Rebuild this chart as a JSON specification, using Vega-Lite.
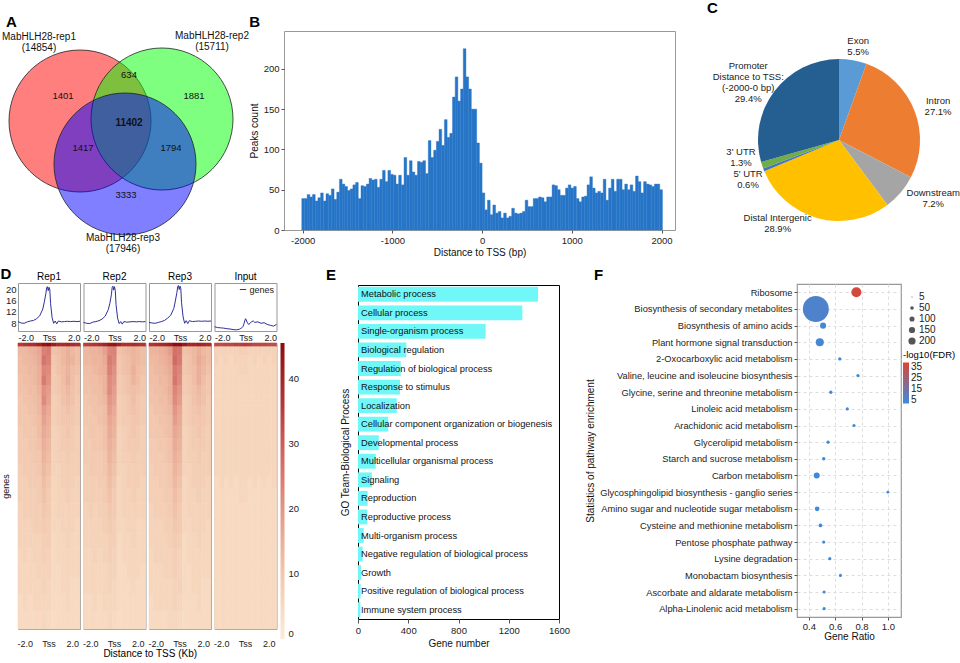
{
"$schema": "https://vega.github.io/schema/vega-lite/v6.json",
"padding": {"left": 0, "top": 0, "right": 0, "bottom": 0},
"config": {
  "font": "Liberation Sans",
  "view": {"stroke": null},
  "axis": {"labelColor": "#222", "titleColor": "#111", "labelFont": "Liberation Sans", "titleFont": "Liberation Sans", "titleFontWeight": "normal", "labelFontSize": 9.5, "titleFontSize": 10, "grid": false, "domainColor": "#555", "tickColor": "#555", "labelFlush": false},
  "title": {"fontSize": 16, "fontWeight": "bold", "anchor": "start", "color": "#000", "offset": 2, "font": "Liberation Sans"},
  "legend": {"labelFont": "Liberation Sans", "titleFont": "Liberation Sans", "labelColor": "#222"}
},
"datasets": {
  "venn": [{"set":"rep1","x":79,"y":118},{"set":"rep2","x":161,"y":116},{"set":"rep3","x":124,"y":161}],
  "vennreg": [{"n":"1401","x":62,"y":93},{"n":"634","x":128,"y":72},{"n":"1881","x":193,"y":93},{"n":"11402","x":128,"y":120},{"n":"1417","x":82,"y":145},{"n":"1794","x":170,"y":145},{"n":"3333","x":125,"y":192}],
  "vennlab": [{"t":"MabHLH28-rep1\n(14854)","x":38,"y":34},{"t":"MabHLH28-rep2\n(15711)","x":211,"y":33},{"t":"MabHLH28-rep3\n(17946)","x":122,"y":235}],
  "hist": [
{"s":-2010,"e":-1980,"n":39},{"s":-1980,"e":-1950,"n":39},{"s":-1950,"e":-1920,"n":44},{"s":-1920,"e":-1890,"n":41},{"s":-1890,"e":-1860,"n":44},{"s":-1860,"e":-1830,"n":36},{"s":-1830,"e":-1800,"n":40},{"s":-1800,"e":-1770,"n":46},{"s":-1770,"e":-1740,"n":36},{"s":-1740,"e":-1710,"n":45},{"s":-1710,"e":-1680,"n":43},{"s":-1680,"e":-1650,"n":51},{"s":-1650,"e":-1620,"n":38},{"s":-1620,"e":-1590,"n":47},{"s":-1590,"e":-1560,"n":63},{"s":-1560,"e":-1530,"n":57},{"s":-1530,"e":-1500,"n":54},{"s":-1500,"e":-1470,"n":49},{"s":-1470,"e":-1440,"n":51},{"s":-1440,"e":-1410,"n":56},{"s":-1410,"e":-1380,"n":59},{"s":-1380,"e":-1350,"n":39},{"s":-1350,"e":-1320,"n":55},{"s":-1320,"e":-1290,"n":54},{"s":-1290,"e":-1260,"n":57},{"s":-1260,"e":-1230,"n":64},{"s":-1230,"e":-1200,"n":62},{"s":-1200,"e":-1170,"n":63},{"s":-1170,"e":-1140,"n":53},{"s":-1140,"e":-1110,"n":63},{"s":-1110,"e":-1080,"n":74},{"s":-1080,"e":-1050,"n":60},{"s":-1050,"e":-1020,"n":74},{"s":-1020,"e":-990,"n":69},{"s":-990,"e":-960,"n":68},{"s":-960,"e":-930,"n":57},{"s":-930,"e":-900,"n":68},{"s":-900,"e":-870,"n":56},{"s":-870,"e":-840,"n":90},{"s":-840,"e":-810,"n":68},{"s":-810,"e":-780,"n":86},{"s":-780,"e":-750,"n":72},{"s":-750,"e":-720,"n":68},{"s":-720,"e":-690,"n":85},{"s":-690,"e":-660,"n":84},{"s":-660,"e":-630,"n":86},{"s":-630,"e":-600,"n":70},{"s":-600,"e":-570,"n":111},{"s":-570,"e":-540,"n":90},{"s":-540,"e":-510,"n":99},{"s":-510,"e":-480,"n":110},{"s":-480,"e":-450,"n":125},{"s":-450,"e":-420,"n":105},{"s":-420,"e":-390,"n":137},{"s":-390,"e":-360,"n":115},{"s":-360,"e":-330,"n":120},{"s":-330,"e":-300,"n":165},{"s":-300,"e":-270,"n":190},{"s":-270,"e":-240,"n":160},{"s":-240,"e":-210,"n":175},{"s":-210,"e":-180,"n":225},{"s":-180,"e":-150,"n":190},{"s":-150,"e":-120,"n":175},{"s":-120,"e":-90,"n":150},{"s":-90,"e":-60,"n":150},{"s":-60,"e":-30,"n":108},{"s":-30,"e":0,"n":83},
{"s":0,"e":30,"n":46},{"s":30,"e":60,"n":25},{"s":60,"e":90,"n":37},{"s":90,"e":120,"n":19},{"s":120,"e":150,"n":31},{"s":150,"e":180,"n":21},{"s":180,"e":210,"n":23},{"s":210,"e":240,"n":15},{"s":240,"e":270,"n":21},{"s":270,"e":300,"n":15},{"s":300,"e":330,"n":17},{"s":330,"e":360,"n":27},{"s":360,"e":390,"n":21},{"s":390,"e":420,"n":20},{"s":420,"e":450,"n":21},{"s":450,"e":480,"n":23},{"s":480,"e":510,"n":37},{"s":510,"e":540,"n":29},{"s":540,"e":570,"n":29},{"s":570,"e":600,"n":39},{"s":600,"e":630,"n":39},{"s":630,"e":660,"n":41},{"s":660,"e":690,"n":40},{"s":690,"e":720,"n":35},{"s":720,"e":750,"n":41},{"s":750,"e":780,"n":41},{"s":780,"e":810,"n":56},{"s":810,"e":840,"n":55},{"s":840,"e":870,"n":50},{"s":870,"e":900,"n":43},{"s":900,"e":930,"n":43},{"s":930,"e":960,"n":52},{"s":960,"e":990,"n":56},{"s":990,"e":1020,"n":52},{"s":1020,"e":1050,"n":54},{"s":1050,"e":1080,"n":39},{"s":1080,"e":1110,"n":35},{"s":1110,"e":1140,"n":41},{"s":1140,"e":1170,"n":42},{"s":1170,"e":1200,"n":56},{"s":1200,"e":1230,"n":66},{"s":1230,"e":1260,"n":52},{"s":1260,"e":1290,"n":46},{"s":1290,"e":1320,"n":48},{"s":1320,"e":1350,"n":46},{"s":1350,"e":1380,"n":63},{"s":1380,"e":1410,"n":37},{"s":1410,"e":1440,"n":52},{"s":1440,"e":1470,"n":63},{"s":1470,"e":1500,"n":48},{"s":1500,"e":1530,"n":63},{"s":1530,"e":1560,"n":63},{"s":1560,"e":1590,"n":50},{"s":1590,"e":1620,"n":57},{"s":1620,"e":1650,"n":50},{"s":1650,"e":1680,"n":56},{"s":1680,"e":1710,"n":48},{"s":1710,"e":1740,"n":67},{"s":1740,"e":1770,"n":60},{"s":1770,"e":1800,"n":46},{"s":1800,"e":1830,"n":60},{"s":1830,"e":1860,"n":57},{"s":1860,"e":1890,"n":56},{"s":1890,"e":1920,"n":54},{"s":1920,"e":1950,"n":57},{"s":1950,"e":1980,"n":57},{"s":1980,"e":2010,"n":50}
  ],
  "pie": [
    {"lab":"Exon","v":5.5,"o":1,"txt":"Exon\n5.5%"},
    {"lab":"Intron","v":27.1,"o":2,"txt":"Intron\n27.1%"},
    {"lab":"Downstream","v":7.2,"o":3,"txt":"Downstream\n7.2%"},
    {"lab":"Distal Intergenic","v":28.9,"o":4,"txt":"Distal Intergenic\n28.9%"},
    {"lab":"5' UTR","v":0.6,"o":5,"txt":"5' UTR\n0.6%"},
    {"lab":"3' UTR","v":1.3,"o":6,"txt":"3' UTR\n1.3%"},
    {"lab":"Promoter","v":29.4,"o":7,"txt":"Promoter\nDistance to TSS:\n(-2000-0 bp)\n29.4%"}
  ],
  "prof": [
{"s":"Rep1","x":-2,"y":8.6},{"s":"Rep1","x":-1.8,"y":8.1},{"s":"Rep1","x":-1.6,"y":8.0},{"s":"Rep1","x":-1.4,"y":8.5},{"s":"Rep1","x":-1.2,"y":8.8},{"s":"Rep1","x":-1,"y":9.0},{"s":"Rep1","x":-0.8,"y":9.6},{"s":"Rep1","x":-0.6,"y":10.6},{"s":"Rep1","x":-0.4,"y":13.0},{"s":"Rep1","x":-0.3,"y":15.5},{"s":"Rep1","x":-0.2,"y":18.5},{"s":"Rep1","x":-0.15,"y":20.5},{"s":"Rep1","x":-0.1,"y":20.8},{"s":"Rep1","x":-0.05,"y":19.4},{"s":"Rep1","x":0,"y":20.6},{"s":"Rep1","x":0.05,"y":20.0},{"s":"Rep1","x":0.1,"y":15.0},{"s":"Rep1","x":0.2,"y":10.0},{"s":"Rep1","x":0.3,"y":8.0},{"s":"Rep1","x":0.4,"y":8.8},{"s":"Rep1","x":0.5,"y":7.8},{"s":"Rep1","x":0.6,"y":8.8},{"s":"Rep1","x":0.8,"y":8.5},{"s":"Rep1","x":1,"y":8.6},{"s":"Rep1","x":1.2,"y":8.7},{"s":"Rep1","x":1.4,"y":8.6},{"s":"Rep1","x":1.6,"y":8.7},{"s":"Rep1","x":1.8,"y":8.6},{"s":"Rep1","x":2,"y":8.7},
{"s":"Rep2","x":-2,"y":8.3},{"s":"Rep2","x":-1.8,"y":8.0},{"s":"Rep2","x":-1.6,"y":7.9},{"s":"Rep2","x":-1.4,"y":8.4},{"s":"Rep2","x":-1.2,"y":8.6},{"s":"Rep2","x":-1,"y":8.9},{"s":"Rep2","x":-0.8,"y":9.5},{"s":"Rep2","x":-0.6,"y":10.5},{"s":"Rep2","x":-0.4,"y":12.8},{"s":"Rep2","x":-0.3,"y":15.0},{"s":"Rep2","x":-0.2,"y":18.0},{"s":"Rep2","x":-0.15,"y":20.6},{"s":"Rep2","x":-0.1,"y":21.0},{"s":"Rep2","x":-0.05,"y":19.6},{"s":"Rep2","x":0,"y":20.8},{"s":"Rep2","x":0.05,"y":19.5},{"s":"Rep2","x":0.1,"y":14.5},{"s":"Rep2","x":0.2,"y":9.8},{"s":"Rep2","x":0.3,"y":7.9},{"s":"Rep2","x":0.4,"y":8.6},{"s":"Rep2","x":0.5,"y":7.7},{"s":"Rep2","x":0.6,"y":8.6},{"s":"Rep2","x":0.8,"y":8.4},{"s":"Rep2","x":1,"y":8.5},{"s":"Rep2","x":1.2,"y":8.6},{"s":"Rep2","x":1.4,"y":8.5},{"s":"Rep2","x":1.6,"y":8.6},{"s":"Rep2","x":1.8,"y":8.5},{"s":"Rep2","x":2,"y":8.6},
{"s":"Rep3","x":-2,"y":8.3},{"s":"Rep3","x":-1.8,"y":8.1},{"s":"Rep3","x":-1.6,"y":8.0},{"s":"Rep3","x":-1.4,"y":8.3},{"s":"Rep3","x":-1.2,"y":8.6},{"s":"Rep3","x":-1,"y":9.0},{"s":"Rep3","x":-0.8,"y":9.8},{"s":"Rep3","x":-0.6,"y":10.8},{"s":"Rep3","x":-0.4,"y":13.2},{"s":"Rep3","x":-0.3,"y":15.8},{"s":"Rep3","x":-0.2,"y":18.8},{"s":"Rep3","x":-0.15,"y":20.8},{"s":"Rep3","x":-0.1,"y":21.2},{"s":"Rep3","x":-0.05,"y":19.8},{"s":"Rep3","x":0,"y":21.0},{"s":"Rep3","x":0.05,"y":20.3},{"s":"Rep3","x":0.1,"y":15.2},{"s":"Rep3","x":0.2,"y":10.2},{"s":"Rep3","x":0.3,"y":8.0},{"s":"Rep3","x":0.4,"y":8.9},{"s":"Rep3","x":0.5,"y":7.9},{"s":"Rep3","x":0.6,"y":8.9},{"s":"Rep3","x":0.8,"y":8.6},{"s":"Rep3","x":1,"y":8.7},{"s":"Rep3","x":1.2,"y":8.8},{"s":"Rep3","x":1.4,"y":8.7},{"s":"Rep3","x":1.6,"y":8.8},{"s":"Rep3","x":1.8,"y":8.7},{"s":"Rep3","x":2,"y":8.8},
{"s":"Input","x":-2,"y":6.8},{"s":"Input","x":-1.8,"y":6.5},{"s":"Input","x":-1.6,"y":6.4},{"s":"Input","x":-1.4,"y":6.3},{"s":"Input","x":-1.2,"y":6.1},{"s":"Input","x":-1,"y":6.0},{"s":"Input","x":-0.8,"y":5.8},{"s":"Input","x":-0.6,"y":5.7},{"s":"Input","x":-0.4,"y":5.9},{"s":"Input","x":-0.3,"y":6.2},{"s":"Input","x":-0.2,"y":6.6},{"s":"Input","x":-0.15,"y":7.0},{"s":"Input","x":-0.1,"y":7.8},{"s":"Input","x":-0.05,"y":8.8},{"s":"Input","x":0,"y":9.6},{"s":"Input","x":0.05,"y":9.2},{"s":"Input","x":0.1,"y":8.4},{"s":"Input","x":0.2,"y":7.6},{"s":"Input","x":0.3,"y":8.0},{"s":"Input","x":0.4,"y":8.6},{"s":"Input","x":0.5,"y":8.8},{"s":"Input","x":0.6,"y":8.3},{"s":"Input","x":0.8,"y":8.5},{"s":"Input","x":1,"y":8.0},{"s":"Input","x":1.2,"y":8.2},{"s":"Input","x":1.4,"y":7.6},{"s":"Input","x":1.6,"y":7.3},{"s":"Input","x":1.8,"y":7.0},{"s":"Input","x":2,"y":7.6}
  ],
  "heat": [
{"s":"Rep1","r0":0,"r1":150,"a":36,"b":37,"c":38,"d":39,"e":41,"f":44,"g":45,"h":42,"i":39,"j":39,"k":40,"l":39,"m":38},
{"s":"Rep1","r0":150,"r1":500,"a":13,"b":13,"c":14,"d":15,"e":17,"f":24,"g":25,"h":11,"i":12,"j":13,"k":15,"l":13,"m":12},
{"s":"Rep1","r0":500,"r1":900,"a":12,"b":13,"c":13,"d":14,"e":16,"f":26,"g":24,"h":10,"i":11,"j":13,"k":15,"l":14,"m":12},
{"s":"Rep1","r0":900,"r1":1300,"a":12,"b":12,"c":13,"d":13,"e":15,"f":23,"g":22,"h":9,"i":11,"j":12,"k":14,"l":12,"m":11},
{"s":"Rep1","r0":1300,"r1":1700,"a":11,"b":12,"c":12,"d":13,"e":15,"f":25,"g":21,"h":9,"i":10,"j":12,"k":15,"l":12,"m":10},
{"s":"Rep1","r0":1700,"r1":2100,"a":11,"b":11,"c":12,"d":12,"e":14,"f":21,"g":19,"h":9,"i":10,"j":11,"k":13,"l":11,"m":10},
{"s":"Rep1","r0":2100,"r1":2500,"a":10,"b":11,"c":11,"d":12,"e":13,"f":22,"g":18,"h":8,"i":9,"j":11,"k":12,"l":11,"m":9},
{"s":"Rep1","r0":2500,"r1":2900,"a":10,"b":10,"c":11,"d":11,"e":13,"f":19,"g":16,"h":8,"i":9,"j":10,"k":11,"l":10,"m":9},
{"s":"Rep1","r0":2900,"r1":3300,"a":10,"b":10,"c":10,"d":11,"e":12,"f":18,"g":15,"h":8,"i":9,"j":10,"k":10,"l":10,"m":9},
{"s":"Rep1","r0":3300,"r1":3800,"a":9,"b":10,"c":10,"d":10,"e":12,"f":16,"g":14,"h":7,"i":8,"j":9,"k":10,"l":9,"m":8},
{"s":"Rep1","r0":3800,"r1":4300,"a":9,"b":9,"c":10,"d":10,"e":11,"f":15,"g":13,"h":7,"i":8,"j":9,"k":9,"l":9,"m":8},
{"s":"Rep1","r0":4300,"r1":4800,"a":9,"b":9,"c":9,"d":10,"e":10,"f":14,"g":12,"h":7,"i":8,"j":8,"k":9,"l":8,"m":8},
{"s":"Rep1","r0":4800,"r1":5300,"a":8,"b":9,"c":9,"d":9,"e":10,"f":13,"g":11,"h":7,"i":7,"j":8,"k":8,"l":8,"m":8},
{"s":"Rep1","r0":5300,"r1":5800,"a":8,"b":8,"c":9,"d":9,"e":9,"f":12,"g":10,"h":6,"i":7,"j":8,"k":8,"l":8,"m":7},
{"s":"Rep1","r0":5800,"r1":6400,"a":8,"b":8,"c":8,"d":8,"e":9,"f":11,"g":9,"h":6,"i":7,"j":7,"k":8,"l":7,"m":7},
{"s":"Rep1","r0":6400,"r1":7000,"a":7,"b":8,"c":8,"d":8,"e":8,"f":10,"g":9,"h":6,"i":7,"j":7,"k":7,"l":7,"m":7},
{"s":"Rep1","r0":7000,"r1":7600,"a":7,"b":7,"c":7,"d":8,"e":8,"f":9,"g":8,"h":6,"i":6,"j":7,"k":7,"l":7,"m":6},
{"s":"Rep1","r0":7600,"r1":8200,"a":7,"b":7,"c":7,"d":7,"e":7,"f":8,"g":8,"h":5,"i":6,"j":6,"k":7,"l":6,"m":6},
{"s":"Rep1","r0":8200,"r1":8800,"a":6,"b":7,"c":6,"d":7,"e":7,"f":8,"g":7,"h":5,"i":6,"j":6,"k":6,"l":6,"m":6},
{"s":"Rep1","r0":8800,"r1":9400,"a":6,"b":6,"c":6,"d":6,"e":7,"f":7,"g":7,"h":5,"i":5,"j":6,"k":6,"l":6,"m":6},
{"s":"Rep1","r0":9400,"r1":10000,"a":6,"b":6,"c":6,"d":6,"e":6,"f":7,"g":6,"h":5,"i":5,"j":6,"k":6,"l":5,"m":5},
{"s":"Rep1","r0":10000,"r1":10700,"a":5,"b":6,"c":5,"d":6,"e":6,"f":6,"g":6,"h":5,"i":5,"j":5,"k":6,"l":5,"m":5},
{"s":"Rep1","r0":10700,"r1":11400,"a":5,"b":5,"c":5,"d":5,"e":5,"f":6,"g":5,"h":4,"i":5,"j":5,"k":5,"l":5,"m":5},
{"s":"Rep2","r0":0,"r1":150,"a":35,"b":36,"c":37,"d":38,"e":40,"f":43,"g":44,"h":41,"i":38,"j":38,"k":39,"l":38,"m":37},
{"s":"Rep2","r0":150,"r1":500,"a":13,"b":14,"c":14,"d":15,"e":18,"f":23,"g":24,"h":11,"i":12,"j":13,"k":14,"l":13,"m":12},
{"s":"Rep2","r0":500,"r1":900,"a":13,"b":13,"c":14,"d":14,"e":16,"f":25,"g":23,"h":10,"i":11,"j":12,"k":14,"l":13,"m":12},
{"s":"Rep2","r0":900,"r1":1300,"a":12,"b":12,"c":13,"d":14,"e":15,"f":24,"g":21,"h":10,"i":11,"j":12,"k":15,"l":12,"m":11},
{"s":"Rep2","r0":1300,"r1":1700,"a":11,"b":12,"c":12,"d":13,"e":14,"f":22,"g":20,"h":9,"i":10,"j":11,"k":14,"l":12,"m":10},
{"s":"Rep2","r0":1700,"r1":2100,"a":11,"b":11,"c":12,"d":12,"e":14,"f":22,"g":19,"h":9,"i":10,"j":11,"k":12,"l":11,"m":10},
{"s":"Rep2","r0":2100,"r1":2500,"a":10,"b":11,"c":11,"d":12,"e":13,"f":20,"g":18,"h":8,"i":9,"j":10,"k":12,"l":10,"m":9},
{"s":"Rep2","r0":2500,"r1":2900,"a":10,"b":10,"c":11,"d":11,"e":12,"f":19,"g":16,"h":8,"i":9,"j":10,"k":11,"l":10,"m":9},
{"s":"Rep2","r0":2900,"r1":3300,"a":10,"b":10,"c":10,"d":11,"e":12,"f":17,"g":15,"h":8,"i":9,"j":9,"k":10,"l":10,"m":9},
{"s":"Rep2","r0":3300,"r1":3800,"a":9,"b":10,"c":10,"d":10,"e":11,"f":16,"g":14,"h":7,"i":8,"j":9,"k":10,"l":9,"m":8},
{"s":"Rep2","r0":3800,"r1":4300,"a":9,"b":9,"c":10,"d":10,"e":11,"f":15,"g":13,"h":7,"i":8,"j":9,"k":9,"l":9,"m":8},
{"s":"Rep2","r0":4300,"r1":4800,"a":9,"b":9,"c":9,"d":9,"e":10,"f":14,"g":12,"h":7,"i":8,"j":8,"k":9,"l":8,"m":8},
{"s":"Rep2","r0":4800,"r1":5300,"a":8,"b":9,"c":9,"d":9,"e":10,"f":13,"g":11,"h":7,"i":7,"j":8,"k":8,"l":8,"m":8},
{"s":"Rep2","r0":5300,"r1":5800,"a":8,"b":8,"c":8,"d":9,"e":9,"f":12,"g":10,"h":6,"i":7,"j":8,"k":8,"l":8,"m":7},
{"s":"Rep2","r0":5800,"r1":6400,"a":8,"b":8,"c":8,"d":8,"e":9,"f":11,"g":9,"h":6,"i":7,"j":7,"k":8,"l":7,"m":7},
{"s":"Rep2","r0":6400,"r1":7000,"a":7,"b":8,"c":7,"d":8,"e":8,"f":10,"g":9,"h":6,"i":7,"j":7,"k":7,"l":7,"m":7},
{"s":"Rep2","r0":7000,"r1":7600,"a":7,"b":7,"c":7,"d":7,"e":8,"f":9,"g":8,"h":6,"i":6,"j":7,"k":7,"l":6,"m":6},
{"s":"Rep2","r0":7600,"r1":8200,"a":7,"b":7,"c":7,"d":7,"e":7,"f":8,"g":8,"h":5,"i":6,"j":6,"k":7,"l":6,"m":6},
{"s":"Rep2","r0":8200,"r1":8800,"a":6,"b":6,"c":7,"d":6,"e":7,"f":8,"g":7,"h":5,"i":6,"j":6,"k":6,"l":6,"m":6},
{"s":"Rep2","r0":8800,"r1":9400,"a":6,"b":6,"c":6,"d":6,"e":6,"f":7,"g":7,"h":5,"i":5,"j":6,"k":6,"l":6,"m":5},
{"s":"Rep2","r0":9400,"r1":10000,"a":6,"b":6,"c":6,"d":6,"e":6,"f":7,"g":6,"h":5,"i":5,"j":5,"k":6,"l":5,"m":5},
{"s":"Rep2","r0":10000,"r1":10700,"a":5,"b":5,"c":6,"d":5,"e":6,"f":6,"g":6,"h":5,"i":5,"j":5,"k":5,"l":5,"m":5},
{"s":"Rep2","r0":10700,"r1":11400,"a":5,"b":5,"c":5,"d":5,"e":5,"f":6,"g":5,"h":4,"i":5,"j":5,"k":5,"l":5,"m":5},
{"s":"Rep3","r0":0,"r1":150,"a":37,"b":38,"c":39,"d":40,"e":42,"f":45,"g":45,"h":43,"i":40,"j":40,"k":41,"l":40,"m":39},
{"s":"Rep3","r0":150,"r1":500,"a":14,"b":14,"c":15,"d":16,"e":19,"f":27,"g":26,"h":11,"i":12,"j":13,"k":15,"l":13,"m":12},
{"s":"Rep3","r0":500,"r1":900,"a":13,"b":13,"c":14,"d":15,"e":17,"f":28,"g":25,"h":10,"i":11,"j":13,"k":16,"l":14,"m":12},
{"s":"Rep3","r0":900,"r1":1300,"a":12,"b":13,"c":13,"d":14,"e":16,"f":25,"g":23,"h":10,"i":11,"j":12,"k":15,"l":13,"m":11},
{"s":"Rep3","r0":1300,"r1":1700,"a":12,"b":12,"c":13,"d":13,"e":15,"f":26,"g":22,"h":9,"i":10,"j":12,"k":15,"l":12,"m":10},
{"s":"Rep3","r0":1700,"r1":2100,"a":11,"b":12,"c":12,"d":13,"e":15,"f":23,"g":20,"h":9,"i":10,"j":11,"k":13,"l":11,"m":10},
{"s":"Rep3","r0":2100,"r1":2500,"a":11,"b":11,"c":12,"d":12,"e":14,"f":22,"g":19,"h":8,"i":9,"j":11,"k":12,"l":11,"m":9},
{"s":"Rep3","r0":2500,"r1":2900,"a":10,"b":11,"c":11,"d":12,"e":13,"f":20,"g":17,"h":8,"i":9,"j":10,"k":11,"l":10,"m":9},
{"s":"Rep3","r0":2900,"r1":3300,"a":10,"b":10,"c":11,"d":11,"e":12,"f":19,"g":16,"h":8,"i":9,"j":10,"k":10,"l":10,"m":9},
{"s":"Rep3","r0":3300,"r1":3800,"a":10,"b":10,"c":10,"d":11,"e":12,"f":17,"g":15,"h":7,"i":8,"j":9,"k":10,"l":9,"m":8},
{"s":"Rep3","r0":3800,"r1":4300,"a":9,"b":9,"c":10,"d":10,"e":11,"f":16,"g":14,"h":7,"i":8,"j":9,"k":9,"l":9,"m":8},
{"s":"Rep3","r0":4300,"r1":4800,"a":9,"b":9,"c":9,"d":10,"e":11,"f":15,"g":13,"h":7,"i":8,"j":8,"k":9,"l":8,"m":8},
{"s":"Rep3","r0":4800,"r1":5300,"a":8,"b":9,"c":9,"d":9,"e":10,"f":14,"g":12,"h":7,"i":7,"j":8,"k":8,"l":8,"m":8},
{"s":"Rep3","r0":5300,"r1":5800,"a":8,"b":8,"c":9,"d":9,"e":10,"f":13,"g":11,"h":6,"i":7,"j":8,"k":8,"l":8,"m":7},
{"s":"Rep3","r0":5800,"r1":6400,"a":8,"b":8,"c":8,"d":9,"e":9,"f":12,"g":10,"h":6,"i":7,"j":7,"k":8,"l":7,"m":7},
{"s":"Rep3","r0":6400,"r1":7000,"a":7,"b":8,"c":8,"d":8,"e":9,"f":11,"g":9,"h":6,"i":7,"j":7,"k":7,"l":7,"m":7},
{"s":"Rep3","r0":7000,"r1":7600,"a":7,"b":7,"c":7,"d":8,"e":8,"f":10,"g":9,"h":6,"i":6,"j":7,"k":7,"l":7,"m":6},
{"s":"Rep3","r0":7600,"r1":8200,"a":7,"b":7,"c":7,"d":7,"e":8,"f":9,"g":8,"h":5,"i":6,"j":6,"k":7,"l":6,"m":6},
{"s":"Rep3","r0":8200,"r1":8800,"a":6,"b":7,"c":7,"d":7,"e":7,"f":8,"g":7,"h":5,"i":6,"j":6,"k":6,"l":6,"m":6},
{"s":"Rep3","r0":8800,"r1":9400,"a":6,"b":6,"c":6,"d":7,"e":7,"f":8,"g":7,"h":5,"i":5,"j":6,"k":6,"l":6,"m":6},
{"s":"Rep3","r0":9400,"r1":10000,"a":6,"b":6,"c":6,"d":6,"e":6,"f":7,"g":7,"h":5,"i":5,"j":6,"k":6,"l":5,"m":5},
{"s":"Rep3","r0":10000,"r1":10700,"a":5,"b":6,"c":6,"d":6,"e":6,"f":7,"g":6,"h":5,"i":5,"j":5,"k":6,"l":5,"m":5},
{"s":"Rep3","r0":10700,"r1":11400,"a":5,"b":5,"c":5,"d":5,"e":6,"f":6,"g":5,"h":4,"i":5,"j":5,"k":5,"l":5,"m":5},
{"s":"Input","r0":0,"r1":150,"a":33,"b":33,"c":34,"d":34,"e":35,"f":35,"g":36,"h":35,"i":34,"j":34,"k":34,"l":33,"m":33},
{"s":"Input","r0":150,"r1":500,"a":7,"b":7,"c":7,"d":7,"e":7,"f":8,"g":8,"h":7,"i":7,"j":7,"k":7,"l":7,"m":7},
{"s":"Input","r0":500,"r1":900,"a":7,"b":6,"c":7,"d":6,"e":7,"f":7,"g":7,"h":6,"i":7,"j":6,"k":7,"l":6,"m":7},
{"s":"Input","r0":900,"r1":1300,"a":6,"b":6,"c":6,"d":6,"e":6,"f":7,"g":7,"h":6,"i":6,"j":6,"k":6,"l":6,"m":6},
{"s":"Input","r0":1300,"r1":1700,"a":6,"b":6,"c":6,"d":6,"e":6,"f":6,"g":6,"h":6,"i":6,"j":6,"k":6,"l":6,"m":6},
{"s":"Input","r0":1700,"r1":2100,"a":6,"b":6,"c":6,"d":6,"e":6,"f":6,"g":6,"h":6,"i":6,"j":6,"k":6,"l":6,"m":6},
{"s":"Input","r0":2100,"r1":2500,"a":6,"b":6,"c":6,"d":6,"e":6,"f":6,"g":6,"h":6,"i":6,"j":6,"k":6,"l":6,"m":6},
{"s":"Input","r0":2500,"r1":2900,"a":6,"b":6,"c":6,"d":6,"e":6,"f":6,"g":6,"h":6,"i":6,"j":6,"k":6,"l":6,"m":6},
{"s":"Input","r0":2900,"r1":3300,"a":6,"b":6,"c":6,"d":6,"e":6,"f":6,"g":6,"h":6,"i":6,"j":6,"k":6,"l":6,"m":6},
{"s":"Input","r0":3300,"r1":3800,"a":6,"b":6,"c":6,"d":6,"e":6,"f":6,"g":6,"h":6,"i":6,"j":6,"k":6,"l":6,"m":6},
{"s":"Input","r0":3800,"r1":4300,"a":6,"b":6,"c":6,"d":6,"e":6,"f":6,"g":6,"h":6,"i":6,"j":6,"k":6,"l":6,"m":6},
{"s":"Input","r0":4300,"r1":4800,"a":6,"b":6,"c":6,"d":6,"e":6,"f":6,"g":6,"h":6,"i":6,"j":6,"k":6,"l":6,"m":6},
{"s":"Input","r0":4800,"r1":5300,"a":6,"b":6,"c":6,"d":6,"e":6,"f":6,"g":6,"h":6,"i":6,"j":6,"k":6,"l":6,"m":6},
{"s":"Input","r0":5300,"r1":5800,"a":5,"b":6,"c":5,"d":6,"e":5,"f":6,"g":6,"h":5,"i":6,"j":5,"k":6,"l":5,"m":6},
{"s":"Input","r0":5800,"r1":6400,"a":5,"b":5,"c":5,"d":5,"e":5,"f":6,"g":6,"h":5,"i":5,"j":5,"k":5,"l":5,"m":5},
{"s":"Input","r0":6400,"r1":7000,"a":5,"b":5,"c":5,"d":5,"e":5,"f":5,"g":5,"h":5,"i":5,"j":5,"k":5,"l":5,"m":5},
{"s":"Input","r0":7000,"r1":7600,"a":5,"b":5,"c":5,"d":5,"e":5,"f":5,"g":5,"h":5,"i":5,"j":5,"k":5,"l":5,"m":5},
{"s":"Input","r0":7600,"r1":8200,"a":5,"b":5,"c":5,"d":5,"e":5,"f":5,"g":5,"h":5,"i":5,"j":5,"k":5,"l":5,"m":5},
{"s":"Input","r0":8200,"r1":8800,"a":5,"b":5,"c":5,"d":5,"e":5,"f":5,"g":5,"h":5,"i":5,"j":5,"k":5,"l":5,"m":5},
{"s":"Input","r0":8800,"r1":9400,"a":5,"b":5,"c":5,"d":5,"e":5,"f":5,"g":5,"h":5,"i":5,"j":5,"k":5,"l":5,"m":5},
{"s":"Input","r0":9400,"r1":10000,"a":5,"b":5,"c":5,"d":5,"e":5,"f":5,"g":5,"h":5,"i":5,"j":5,"k":5,"l":5,"m":5},
{"s":"Input","r0":10000,"r1":10700,"a":5,"b":5,"c":5,"d":5,"e":5,"f":5,"g":5,"h":5,"i":5,"j":5,"k":5,"l":5,"m":5},
{"s":"Input","r0":10700,"r1":11400,"a":5,"b":5,"c":5,"d":5,"e":5,"f":5,"g":5,"h":5,"i":5,"j":5,"k":5,"l":5,"m":5}
  ],
  "go": [{"t":"Metabolic process","n":1433},{"t":"Cellular process","n":1308},{"t":"Single-organism process","n":1016},{"t":"Biological regulation","n":385},{"t":"Regulation of biological process","n":340},{"t":"Response to stimulus","n":334},{"t":"Localization","n":308},{"t":"Cellular component organization or biogenesis","n":241},{"t":"Developmental process","n":165},{"t":"Multicellular organismal process","n":141},{"t":"Signaling","n":111},{"t":"Reproduction","n":77},{"t":"Reproductive process","n":74},{"t":"Multi-organism process","n":45},{"t":"Negative regulation of biological process","n":37},{"t":"Growth","n":24},{"t":"Positive regulation of biological process","n":21},{"t":"Immune system process","n":19}],
  "kegg": [{"p":"Ribosome","r":0.761,"c":385,"f":37},{"p":"Biosynthesis of secondary metabolites","r":0.453,"c":2600,"f":6},{"p":"Biosynthesis of amino acids","r":0.508,"c":140,"f":4},{"p":"Plant hormone signal transduction","r":0.483,"c":250,"f":4},{"p":"2-Oxocarboxylic acid metabolism","r":0.635,"c":42,"f":3},{"p":"Valine, leucine and isoleucine biosynthesis","r":0.773,"c":40,"f":3},{"p":"Glycine, serine and threonine metabolism","r":0.567,"c":42,"f":3},{"p":"Linoleic acid metabolism","r":0.692,"c":38,"f":3},{"p":"Arachidonic acid metabolism","r":0.743,"c":38,"f":3},{"p":"Glycerolipid metabolism","r":0.546,"c":42,"f":2.5},{"p":"Starch and sucrose metabolism","r":0.513,"c":45,"f":2.5},{"p":"Carbon metabolism","r":0.46,"c":140,"f":2.5},{"p":"Glycosphingolipid biosynthesis - ganglio series","r":1.0,"c":30,"f":2.5},{"p":"Amino sugar and nucleotide sugar metabolism","r":0.463,"c":85,"f":2},{"p":"Cysteine and methionine metabolism","r":0.488,"c":55,"f":2},{"p":"Pentose phosphate pathway","r":0.513,"c":40,"f":2},{"p":"Lysine degradation","r":0.559,"c":40,"f":2},{"p":"Monobactam biosynthesis","r":0.64,"c":35,"f":2},{"p":"Ascorbate and aldarate metabolism","r":0.516,"c":38,"f":2},{"p":"Alpha-Linolenic acid metabolism","r":0.516,"c":40,"f":2}]
},
"resolve": {"scale": {"color": "independent", "size": "independent"}},
"spacing": 8,
"vconcat": [
 {"resolve": {"scale": {"color": "independent", "size": "independent"}}, "spacing": 30, "hconcat": [
  {"resolve": {"scale": {"color": "independent", "size": "independent"}}, "spacing": -1, "hconcat": [
   {"title": {"text": "A", "dx": 4, "offset": 1, "fontSize": 15},
    "width": 226, "height": 227,
    "encoding": {
      "x": {"field": "x", "type": "quantitative", "scale": {"domain": [17, 243], "nice": false, "zero": false}, "axis": null},
      "y": {"field": "y", "type": "quantitative", "scale": {"domain": [28, 255], "reverse": true, "nice": false, "zero": false}, "axis": null}
    },
    "layer": [
     {"data": {"name": "venn"},
      "mark": {"type": "point", "shape": "circle", "size": 20164, "filled": true, "opacity": 1, "fillOpacity": 0.5, "stroke": "#222", "strokeWidth": 0.8, "strokeOpacity": 1},
      "encoding": {"color": {"field": "set", "type": "nominal", "scale": {"domain": ["rep1","rep2","rep3"], "range": ["#FF0000","#00FF00","#0000FF"]}, "legend": null}}},
     {"data": {"name": "vennreg"}, "transform": [{"filter": "datum.n !== '11402'"}],
      "mark": {"type": "text", "fontSize": 9.5, "color": "#111"},
      "encoding": {"text": {"field": "n"}}},
     {"data": {"name": "vennreg"}, "transform": [{"filter": "datum.n === '11402'"}],
      "mark": {"type": "text", "fontSize": 10, "fontWeight": "bold", "color": "#111"},
      "encoding": {"text": {"field": "n"}}},
     {"data": {"name": "vennlab"},
      "mark": {"type": "text", "fontSize": 10, "lineBreak": "\n", "lineHeight": 11, "color": "#111"},
      "encoding": {"text": {"field": "t"}}}
    ]},
   {"title": {"text": "B", "offset": 1, "fontSize": 15},
    "width": 391, "height": 199,
    "view": {"stroke": "#999", "strokeWidth": 1},
    "data": {"name": "hist"},
    "mark": {"type": "rect", "color": "#2675C7", "stroke": "#2675C7", "strokeWidth": 0.4},
    "encoding": {
     "x": {"field": "s", "type": "quantitative", "scale": {"domain": [-2208, 2150], "nice": false, "zero": false},
           "axis": {"values": [-2000,-1000,0,1000,2000], "labelExpr": "datum.value < 0 ? '-' + format(-datum.value, 'd') : format(datum.value, 'd')", "title": "Distance to TSS (bp)", "domain": false, "tickSize": 3, "labelPadding": 2, "titlePadding": 3}},
     "x2": {"field": "e"},
     "y": {"field": "n", "type": "quantitative", "scale": {"domain": [0, 247], "nice": false}, "axis": {"values": [0,50,100,150,200], "title": "Peaks count", "domain": false, "tickSize": 3, "labelPadding": 2, "titlePadding": 4}},
     "y2": {"datum": 0}
    }}
  ]},
  {"title": {"text": "C", "dx": -2, "offset": 1, "fontSize": 15},
   "width": 240, "height": 218,
   "data": {"name": "pie"},
   "encoding": {
     "theta": {"field": "v", "type": "quantitative", "stack": true, "scale": {"domain": [0, 100]}},
     "order": {"field": "o", "type": "quantitative"}
   },
   "layer": [
    {"mark": {"type": "arc", "radius": 81},
     "encoding": {"color": {"field": "lab", "type": "nominal", "scale": {"domain": ["Exon","Intron","Downstream","Distal Intergenic","5' UTR","3' UTR","Promoter"], "range": ["#5B9BD5","#ED7D31","#A5A5A5","#FFC000","#4472C4","#70AD47","#255E91"]}, "legend": null}}},
    {"mark": {"type": "text", "radius": 100, "dx": 2, "dy": 0, "fontSize": 9.5, "lineBreak": "\n", "lineHeight": 11, "color": "#222"},
     "encoding": {"text": {"condition": {"test": "datum.o === 1", "field": "txt"}, "value": ""}}},
    {"mark": {"type": "text", "radius": 100, "dx": 6, "dy": -2.5, "fontSize": 9.5, "lineBreak": "\n", "lineHeight": 11, "color": "#222"},
     "encoding": {"text": {"condition": {"test": "datum.o === 2", "field": "txt"}, "value": ""}}},
    {"mark": {"type": "text", "radius": 100, "dx": 18, "dy": -11.5, "fontSize": 9.5, "lineBreak": "\n", "lineHeight": 11, "color": "#222"},
     "encoding": {"text": {"condition": {"test": "datum.o === 3", "field": "txt"}, "value": ""}}},
    {"mark": {"type": "text", "radius": 100, "dx": -35, "dy": -18, "fontSize": 9.5, "lineBreak": "\n", "lineHeight": 11, "color": "#222"},
     "encoding": {"text": {"condition": {"test": "datum.o === 4", "field": "txt"}, "value": ""}}},
    {"mark": {"type": "text", "radius": 100, "dx": 2, "dy": -2.5, "fontSize": 9.5, "lineBreak": "\n", "lineHeight": 11, "color": "#222"},
     "encoding": {"text": {"condition": {"test": "datum.o === 5", "field": "txt"}, "value": ""}}},
    {"mark": {"type": "text", "radius": 100, "dx": -3, "dy": -19.5, "fontSize": 9.5, "lineBreak": "\n", "lineHeight": 11, "color": "#222"},
     "encoding": {"text": {"condition": {"test": "datum.o === 6", "field": "txt"}, "value": ""}}},
    {"mark": {"type": "text", "radius": 100, "dx": -11, "dy": -13.5, "fontSize": 9.5, "lineBreak": "\n", "lineHeight": 11, "color": "#222"},
     "encoding": {"text": {"condition": {"test": "datum.o === 7", "field": "txt"}, "value": ""}}}
   ]}
 ]},
 {"resolve": {"scale": {"color": "independent", "size": "independent"}}, "spacing": 26, "hconcat": [
  {"title": {"text": "D", "dy": 10, "offset": 0, "fontSize": 15}, "resolve": {"scale": {"color": "independent", "size": "independent"}}, "vconcat": [
   {"title": {"text": "Distance to TSS (Kb)", "orient": "bottom", "anchor": "middle", "fontSize": 10, "fontWeight": "normal", "offset": 0},
    "resolve": {"scale": {"color": "independent", "size": "independent"}}, "spacing": -2.5, "hconcat": [
    {"resolve": {"scale": {"color": "independent", "size": "independent"}}, "spacing": -3, "vconcat": [
     {"title": {"text": "Rep1", "anchor": "middle", "fontSize": 10, "fontWeight": "normal", "offset": 1},
      "width": 62, "height": 48, "view": {"stroke": "#999"},
      "data": {"name": "prof"}, "transform": [{"filter": "datum.s === 'Rep1'"}],
      "mark": {"type": "line", "color": "#30309A", "strokeWidth": 1},
      "encoding": {
       "x": {"field": "x", "type": "quantitative", "scale": {"domain": [-2, 2], "nice": false, "zero": false}, "axis": {"values": [-2,0,2], "labelExpr": "datum.value === 0 ? 'Tss' : (datum.value < 0 ? '-2.0' : '2.0')", "labelFlush": true, "ticks": false, "domain": false, "title": null, "labelPadding": 2, "labelFontSize": 9}},
       "y": {"field": "y", "type": "quantitative", "scale": {"domain": [5.3, 22.1], "nice": false, "zero": false}, "axis": {"values": [8,12,16,20], "title": null, "ticks": false, "domain": false, "labelPadding": 2, "labelFontSize": 9.5}}
      }},
     {"width": 62, "height": 286, "view": {"stroke": "#999"},
      "data": {"name": "heat"},
      "transform": [{"filter": "datum.s === 'Rep1'"}, {"fold": ["a","b","c","d","e","f","g","h","i","j","k","l","m"], "as": ["col", "val"]}],
      "mark": {"type": "rect", "strokeWidth": 0.6},
      "encoding": {
       "x": {"field": "col", "type": "ordinal", "sort": "ascending", "scale": {"paddingInner": 0, "paddingOuter": 0}, "axis": {"values": ["b","g","l"], "labelExpr": "datum.value === 'b' ? '-2.0' : (datum.value === 'g' ? 'Tss' : '2.0')", "ticks": false, "domain": false, "title": null, "labelPadding": 10, "labelAngle": 0, "labelFontSize": 9}},
       "y": {"field": "r0", "type": "quantitative", "scale": {"domain": [0, 11400], "reverse": true, "nice": false, "zero": false}, "axis": {"title": "genes", "labels": false, "ticks": false, "domain": false, "titlePadding": 8, "titleFontSize": 9}},
       "y2": {"field": "r1"},
       "color": {"field": "val", "type": "quantitative", "scale": {"domain": [0, 45.5], "range": ["#FCEBD6","#F3CBB2","#E6A08F","#D26E67","#B23636","#8B0A0A"]}, "legend": null},
       "stroke": {"field": "val", "type": "quantitative", "scale": {"domain": [0, 45.5], "range": ["#FCEBD6","#F3CBB2","#E6A08F","#D26E67","#B23636","#8B0A0A"]}, "legend": null}
      }}
    ]},
    {"resolve": {"scale": {"color": "independent", "size": "independent"}}, "spacing": -3, "vconcat": [
     {"title": {"text": "Rep2", "anchor": "middle", "fontSize": 10, "fontWeight": "normal", "offset": 1},
      "width": 62, "height": 48, "view": {"stroke": "#999"},
      "data": {"name": "prof"}, "transform": [{"filter": "datum.s === 'Rep2'"}],
      "mark": {"type": "line", "color": "#30309A", "strokeWidth": 1},
      "encoding": {
       "x": {"field": "x", "type": "quantitative", "scale": {"domain": [-2, 2], "nice": false, "zero": false}, "axis": {"values": [-2,0,2], "labelExpr": "datum.value === 0 ? 'Tss' : (datum.value < 0 ? '-2.0' : '2.0')", "labelFlush": true, "ticks": false, "domain": false, "title": null, "labelPadding": 2, "labelFontSize": 9}},
       "y": {"field": "y", "type": "quantitative", "scale": {"domain": [5.3, 22.1], "nice": false, "zero": false}, "axis": null}
      }},
     {"width": 62, "height": 286, "view": {"stroke": "#999"},
      "data": {"name": "heat"},
      "transform": [{"filter": "datum.s === 'Rep2'"}, {"fold": ["a","b","c","d","e","f","g","h","i","j","k","l","m"], "as": ["col", "val"]}],
      "mark": {"type": "rect", "strokeWidth": 0.6},
      "encoding": {
       "x": {"field": "col", "type": "ordinal", "sort": "ascending", "scale": {"paddingInner": 0, "paddingOuter": 0}, "axis": {"values": ["b","g","l"], "labelExpr": "datum.value === 'b' ? '-2.0' : (datum.value === 'g' ? 'Tss' : '2.0')", "ticks": false, "domain": false, "title": null, "labelPadding": 10, "labelAngle": 0, "labelFontSize": 9}},
       "y": {"field": "r0", "type": "quantitative", "scale": {"domain": [0, 11400], "reverse": true, "nice": false, "zero": false}, "axis": null},
       "y2": {"field": "r1"},
       "color": {"field": "val", "type": "quantitative", "scale": {"domain": [0, 45.5], "range": ["#FCEBD6","#F3CBB2","#E6A08F","#D26E67","#B23636","#8B0A0A"]}, "legend": null},
       "stroke": {"field": "val", "type": "quantitative", "scale": {"domain": [0, 45.5], "range": ["#FCEBD6","#F3CBB2","#E6A08F","#D26E67","#B23636","#8B0A0A"]}, "legend": null}
      }}
    ]},
    {"resolve": {"scale": {"color": "independent", "size": "independent"}}, "spacing": -3, "vconcat": [
     {"title": {"text": "Rep3", "anchor": "middle", "fontSize": 10, "fontWeight": "normal", "offset": 1},
      "width": 62, "height": 48, "view": {"stroke": "#999"},
      "data": {"name": "prof"}, "transform": [{"filter": "datum.s === 'Rep3'"}],
      "mark": {"type": "line", "color": "#30309A", "strokeWidth": 1},
      "encoding": {
       "x": {"field": "x", "type": "quantitative", "scale": {"domain": [-2, 2], "nice": false, "zero": false}, "axis": {"values": [-2,0,2], "labelExpr": "datum.value === 0 ? 'Tss' : (datum.value < 0 ? '-2.0' : '2.0')", "labelFlush": true, "ticks": false, "domain": false, "title": null, "labelPadding": 2, "labelFontSize": 9}},
       "y": {"field": "y", "type": "quantitative", "scale": {"domain": [5.3, 22.1], "nice": false, "zero": false}, "axis": null}
      }},
     {"width": 62, "height": 286, "view": {"stroke": "#999"},
      "data": {"name": "heat"},
      "transform": [{"filter": "datum.s === 'Rep3'"}, {"fold": ["a","b","c","d","e","f","g","h","i","j","k","l","m"], "as": ["col", "val"]}],
      "mark": {"type": "rect", "strokeWidth": 0.6},
      "encoding": {
       "x": {"field": "col", "type": "ordinal", "sort": "ascending", "scale": {"paddingInner": 0, "paddingOuter": 0}, "axis": {"values": ["b","g","l"], "labelExpr": "datum.value === 'b' ? '-2.0' : (datum.value === 'g' ? 'Tss' : '2.0')", "ticks": false, "domain": false, "title": null, "labelPadding": 10, "labelAngle": 0, "labelFontSize": 9}},
       "y": {"field": "r0", "type": "quantitative", "scale": {"domain": [0, 11400], "reverse": true, "nice": false, "zero": false}, "axis": null},
       "y2": {"field": "r1"},
       "color": {"field": "val", "type": "quantitative", "scale": {"domain": [0, 45.5], "range": ["#FCEBD6","#F3CBB2","#E6A08F","#D26E67","#B23636","#8B0A0A"]}, "legend": null},
       "stroke": {"field": "val", "type": "quantitative", "scale": {"domain": [0, 45.5], "range": ["#FCEBD6","#F3CBB2","#E6A08F","#D26E67","#B23636","#8B0A0A"]}, "legend": null}
      }}
    ]},
    {"resolve": {"scale": {"color": "independent", "size": "independent"}}, "spacing": -3, "vconcat": [
     {"title": {"text": "Input", "anchor": "middle", "fontSize": 10, "fontWeight": "normal", "offset": 1},
      "width": 62, "height": 48, "view": {"stroke": "#999"},
      "data": {"name": "prof"}, "transform": [{"filter": "datum.s === 'Input'"}],
      "mark": {"type": "line", "strokeWidth": 1},
      "encoding": {
       "x": {"field": "x", "type": "quantitative", "scale": {"domain": [-2, 2], "nice": false, "zero": false}, "axis": {"values": [-2,0,2], "labelExpr": "datum.value === 0 ? 'Tss' : (datum.value < 0 ? '-2.0' : '2.0')", "labelFlush": true, "ticks": false, "domain": false, "title": null, "labelPadding": 2, "labelFontSize": 9}},
       "y": {"field": "y", "type": "quantitative", "scale": {"domain": [5.3, 22.1], "nice": false, "zero": false}, "axis": null},
       "color": {"datum": "genes", "type": "nominal", "scale": {"range": ["#30309A"]}, "legend": {"orient": "top-right", "title": null, "symbolType": "stroke", "symbolSize": 40, "symbolStrokeWidth": 1, "labelFontSize": 9, "offset": 2, "padding": 0, "labelOffset": 2}}
      }},
     {"width": 62, "height": 286, "view": {"stroke": "#999"},
      "data": {"name": "heat"},
      "transform": [{"filter": "datum.s === 'Input'"}, {"fold": ["a","b","c","d","e","f","g","h","i","j","k","l","m"], "as": ["col", "val"]}],
      "mark": {"type": "rect", "strokeWidth": 0.6},
      "encoding": {
       "x": {"field": "col", "type": "ordinal", "sort": "ascending", "scale": {"paddingInner": 0, "paddingOuter": 0}, "axis": {"values": ["b","g","l"], "labelExpr": "datum.value === 'b' ? '-2.0' : (datum.value === 'g' ? 'Tss' : '2.0')", "ticks": false, "domain": false, "title": null, "labelPadding": 10, "labelAngle": 0, "labelFontSize": 9}},
       "y": {"field": "r0", "type": "quantitative", "scale": {"domain": [0, 11400], "reverse": true, "nice": false, "zero": false}, "axis": null},
       "y2": {"field": "r1"},
       "color": {"field": "val", "type": "quantitative", "scale": {"domain": [0, 45.5], "range": ["#FCEBD6","#F3CBB2","#E6A08F","#D26E67","#B23636","#8B0A0A"]}, "legend": {"orient": "right", "title": null, "direction": "vertical", "gradientLength": 296, "gradientThickness": 4, "values": [0,10,20,30,40], "labelFontSize": 9.5, "offset": 4, "padding": 0, "labelOffset": 4, "gradientStrokeWidth": 0}},
       "stroke": {"field": "val", "type": "quantitative", "scale": {"domain": [0, 45.5], "range": ["#FCEBD6","#F3CBB2","#E6A08F","#D26E67","#B23636","#8B0A0A"]}, "legend": null}
      }}
    ]}
   ]}
  ]},
  {"resolve": {"scale": {"color": "independent", "size": "independent"}}, "spacing": 14, "hconcat": [
   {"resolve": {"scale": {"color": "independent", "size": "independent"}}, "spacing": 0, "vconcat": [
    {"title": {"text": "E", "dx": -32, "offset": 0, "fontSize": 15}, "width": 1, "height": 1, "data": {"values": []}, "mark": {"type": "point", "opacity": 0}},
    {"width": 201, "height": 334, "view": {"stroke": "#000", "strokeWidth": 1},
     "data": {"name": "go"},
     "encoding": {
       "y": {"field": "t", "type": "nominal", "sort": null, "scale": {"paddingInner": 0.2, "paddingOuter": 0.1}, "axis": {"title": "GO Team-Biological Process", "labels": false, "ticks": false, "domain": false, "titlePadding": 8}},
       "x": {"type": "quantitative", "scale": {"domain": [0, 1600], "nice": false, "zero": false}, "axis": {"values": [0,400,800,1200,1600], "format": "d", "title": "Gene number", "domain": false, "tickSize": 4, "labelPadding": 2, "titlePadding": 4}}
     },
     "layer": [
      {"mark": {"type": "bar", "color": "#70F8F8"}, "encoding": {"x": {"field": "n", "type": "quantitative"}}},
      {"mark": {"type": "text", "align": "left", "dx": 3, "fontSize": 9.3, "color": "#111"}, "encoding": {"x": {"datum": 0, "type": "quantitative"}, "text": {"field": "t"}}}
     ]}
   ]},
   {"resolve": {"scale": {"color": "independent", "size": "independent"}}, "spacing": -4, "vconcat": [
    {"title": {"text": "F", "dx": -203, "offset": 0, "fontSize": 15}, "width": 1, "height": 1, "data": {"values": []}, "mark": {"type": "point", "opacity": 0}},
    {"width": 104, "height": 333, "view": {"stroke": "#999", "strokeWidth": 1.2},
     "data": {"name": "kegg"},
     "mark": {"type": "point", "filled": true, "opacity": 1, "shape": "circle"},
     "encoding": {
      "y": {"field": "p", "type": "nominal", "sort": null, "axis": {"title": "Statistics of pathway enrichment", "labelFontSize": 9.3, "labelLimit": 300, "tickSize": 3, "domain": false, "grid": true, "gridDash": [3,3], "gridColor": "#DDD", "labelPadding": 2, "titlePadding": 4}},
      "x": {"field": "r", "type": "quantitative", "scale": {"domain": [0.31, 1.1], "nice": false, "zero": false}, "axis": {"values": [0.4,0.6,0.8,1.0], "format": ".1f", "title": "Gene Ratio", "grid": true, "gridDash": [3,3], "gridColor": "#DDD", "tickSize": 3, "domain": false, "labelPadding": 1, "titlePadding": 1}},
      "size": {"field": "c", "type": "quantitative", "scale": {"domain": [0, 2600], "range": [0, 676]}, "legend": {"values": [5,50,100,150,200], "title": null, "orient": "none", "legendX": 110, "legendY": 8, "symbolFillColor": "#555", "symbolStrokeWidth": 0, "symbolType": "circle", "labelFontSize": 10, "rowPadding": 1, "labelOffset": 2}},
      "color": {"field": "f", "type": "quantitative", "scale": {"domain": [1.6, 39.4], "range": ["#3B8BE0", "#DD4433"], "interpolate": "rgb"}, "legend": {"title": "-log10(FDR)", "orient": "none", "legendX": 106, "legendY": 66, "direction": "vertical", "gradientLength": 41, "gradientThickness": 6, "values": [5,15,25,35], "labelFontSize": 10, "titleFontSize": 9.5, "titleFontWeight": "normal", "titlePadding": 3, "labelOverlap": false}}
     }}
   ]}
  ]}
 ]}
]
}
